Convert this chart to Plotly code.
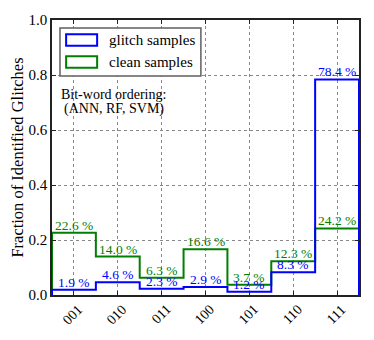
import plotly.graph_objects as go

# datos
categorias = ["001", "010", "011", "100", "101", "110", "111"]
glitch = [0.019, 0.046, 0.023, 0.029, 0.012, 0.083, 0.784]
clean = [0.226, 0.140, 0.063, 0.166, 0.037, 0.123, 0.242]
yticks = [0.0, 0.2, 0.4, 0.6, 0.8, 1.0]

AZUL = "#0000ff"
VERDE = "#007f00"
FUENTE = "Liberation Serif"


def contorno(valores):
    # histograma tipo 'step' cerrado hasta cero en ambos extremos
    n = len(valores)
    xs = [-0.5, -0.5] + [i + 0.5 for i in range(n)]
    ys = [0] + list(valores) + [0]
    return xs, ys


fig = go.Figure()

for valores, color, nombre in [(clean, VERDE, "clean samples"), (glitch, AZUL, "glitch samples")]:
    xs, ys = contorno(valores)
    fig.add_trace(go.Scatter(x=xs, y=ys, mode="lines", line=dict(color=color, width=2, shape="hv"),
                             name=nombre, showlegend=False, hoverinfo="skip"))

# etiquetas de porcentaje sobre cada escalon
for valores, color in [(clean, VERDE), (glitch, AZUL)]:
    for i, v in enumerate(valores):
        fig.add_annotation(x=i, y=v, text=f"{v * 100:.1f} %", showarrow=False, yanchor="bottom",
                           yshift=-2, font=dict(color=color, size=13.5, family=FUENTE))

# etiquetas del eje x rotadas 45 grados, centradas en la marca
for i, c in enumerate(categorias):
    fig.add_annotation(x=i, y=0, xref="x", yref="paper", text=c, showarrow=False, textangle=-45,
                       yanchor="top", yshift=-4, xshift=-1, font=dict(size=14, family=FUENTE, color="black"))

# leyenda dibujada a mano (cajas con contorno)
fig.add_shape(type="rect", xref="paper", yref="paper", x0=0.026, x1=0.485, y0=0.796, y1=0.971,
              line=dict(color="#606060", width=1.5), fillcolor="white", layer="above")
for yc, color, nombre in [(0.927, AZUL, "glitch samples"), (0.847, VERDE, "clean samples")]:
    fig.add_shape(type="rect", xref="paper", yref="paper", x0=0.046, x1=0.147, y0=yc - 0.021, y1=yc + 0.021,
                  line=dict(color=color, width=2), layer="above")
    fig.add_annotation(xref="paper", yref="paper", x=0.18, y=yc, text=nombre, showarrow=False,
                       xanchor="left", yanchor="middle", font=dict(size=15, family=FUENTE, color="black"))

# nota en dos lineas separadas para ajustar el interlineado
for yc, xc, linea in [(0.728, 0.022, "Bit-word ordering:"), (0.677, 0.032, "(ANN, RF, SVM)")]:
    fig.add_annotation(xref="paper", yref="paper", x=xc, y=yc, text=linea, showarrow=False,
                       xanchor="left", yanchor="middle", font=dict(size=14, family=FUENTE, color="black"))

# la pagina tiene 8 px de margen en el body: se compensa en el tamano
fig.update_layout(
    width=366, height=332,
    margin=dict(l=44, r=15, t=12, b=45),
    paper_bgcolor="white", plot_bgcolor="white",
    font=dict(family=FUENTE, color="black"),
    showlegend=False,
)
fig.update_xaxes(range=[-0.5, 6.5], tickvals=list(range(len(categorias))), showticklabels=False,
                 showgrid=True, gridcolor="#888", griddash="dot", gridwidth=1,
                 showline=True, linecolor="#222", linewidth=1.5, mirror="ticks",
                 ticks="inside", ticklen=4, tickcolor="#222", zeroline=False, automargin=False)
fig.update_yaxes(range=[0, 1.0], tickvals=yticks, ticktext=[f"{t:.1f}" for t in yticks],
                 tickfont=dict(size=15), showgrid=True, gridcolor="#888", griddash="dot", gridwidth=1,
                 showline=True, linecolor="#222", linewidth=1.5, mirror="ticks",
                 ticks="inside", ticklen=4, tickcolor="#222", zeroline=False, automargin=False,
                 title=dict(text="Fraction of Identified Glitches", font=dict(size=16.5), standoff=4))

fig.write_html("out.html")
